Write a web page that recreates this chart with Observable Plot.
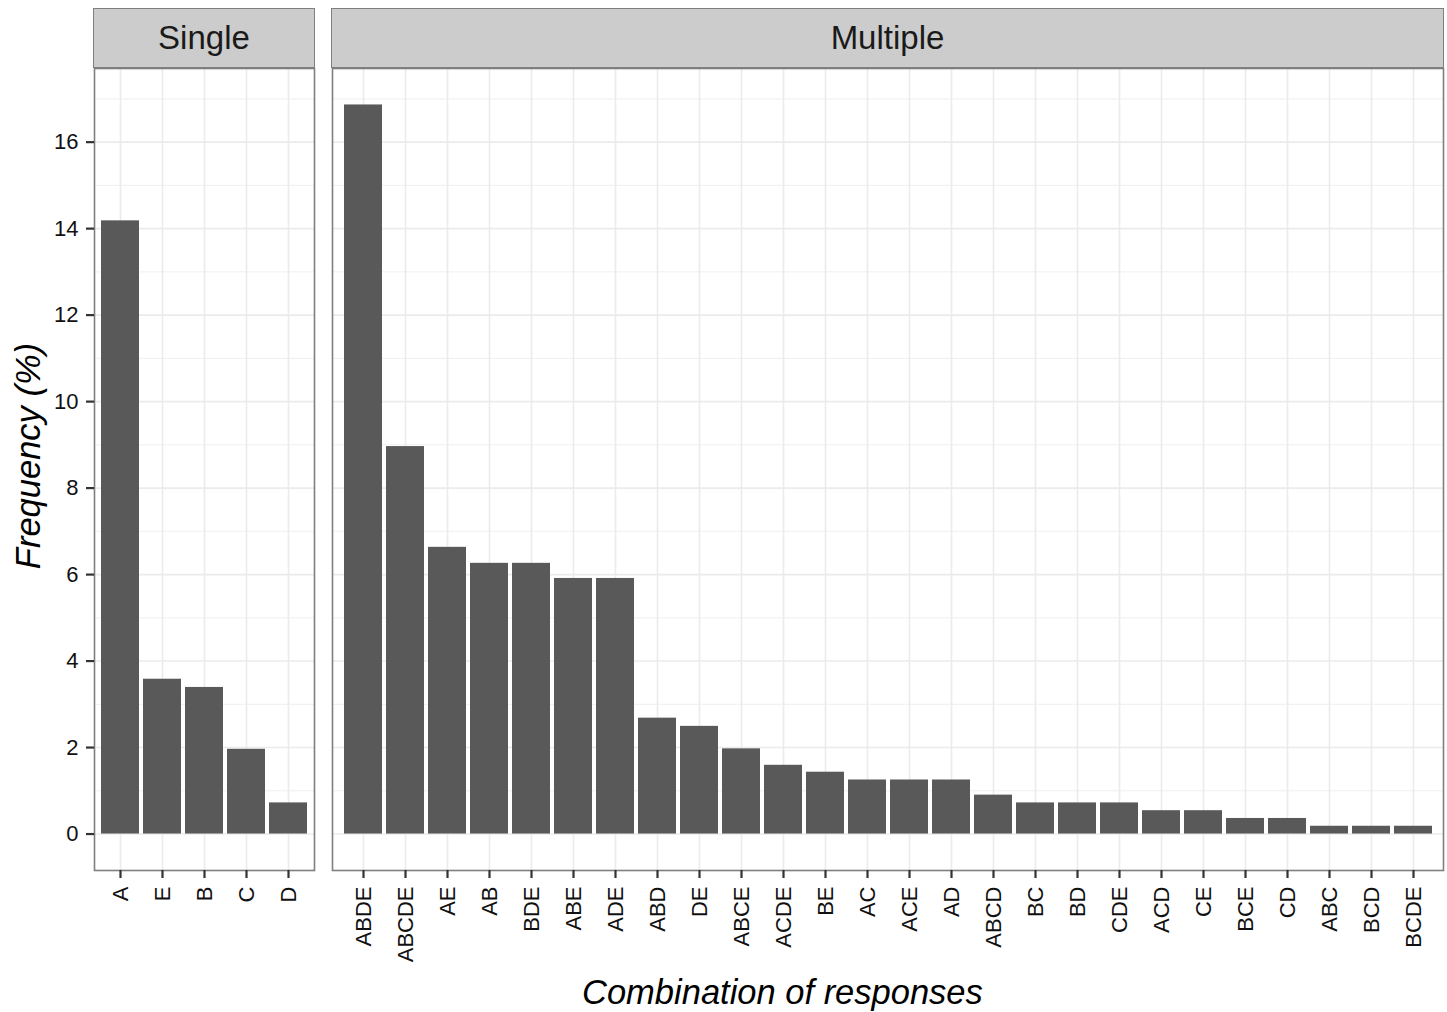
<!DOCTYPE html>
<html>
<head>
<meta charset="utf-8">
<script src="https://cdn.jsdelivr.net/npm/d3@7"></script>
<script src="https://cdn.jsdelivr.net/npm/@observablehq/plot@0.6"></script>
<style>
  html, body { margin: 0; padding: 0; background: #fff; }
  #wrap { position: relative; width: 1447px; height: 1012px; background: #fff;
          font-family: "Liberation Sans", Arial, Helvetica, sans-serif; }
  .strip { position: absolute; top: 8px; height: 60px; box-sizing: border-box;
           background: #CCCCCC; border: 1.5px solid #7F7F7F;
           display: flex; align-items: center; justify-content: center;
           font-size: 33px; color: #1A1A1A; }
  .xtitle { position: absolute; top: 970px; left: 582px; width: 400px; text-align: center;
            font-style: italic; font-size: 34.5px; color: #000; white-space: nowrap; line-height: 44px; }
  .ytitle { position: absolute; left: 28px; top: 456px; transform: translate(-50%, -50%) rotate(-90deg);
            font-style: italic; font-size: 34.5px; color: #000; white-space: nowrap; }
  .panel { position: absolute; top: 0; }
</style>
</head>
<body>
<div id="wrap"></div>
<script>
// ---- data ----
const singleCats = ["A", "E", "B", "C", "D"];
const singleVals = [14.18, 3.58, 3.39, 1.96, 0.72];
const multiCats = ["ABDE", "ABCDE", "AE", "AB", "BDE", "ABE", "ADE", "ABD", "DE", "ABCE", "ACDE", "BE", "AC", "ACE", "AD", "ABCD", "BC", "BD", "CDE", "ACD", "CE", "BCE", "CD", "ABC", "BCD", "BCDE"];
const multiVals = [16.86, 8.96, 6.63, 6.26, 6.26, 5.91, 5.91, 2.68, 2.49, 1.97, 1.59, 1.43, 1.25, 1.25, 1.25, 0.90, 0.72, 0.72, 0.72, 0.54, 0.54, 0.36, 0.36, 0.18, 0.18, 0.18];
const panelNames = ["Single", "Multiple"];
const yTicks = [0, 2, 4, 6, 8, 10, 12, 14, 16];
const yMinor = [1, 3, 5, 7, 9, 11, 13, 15, 17];
const xTitle = "Combination of responses";
const yTitle = "Frequency (%)";

// ---- build ----
const yMax = d3.max([...singleVals, ...multiVals]);
const yPad = yMax * 0.05;
const yDomain = [-yPad, yMax + yPad];
const FONT = '"Liberation Sans", Arial, Helvetica, sans-serif';

function panel(cats, vals, opts) {
  const data = cats.map((c, i) => ({cat: c, value: vals[i]}));
  const marks = [
    Plot.gridY(yMinor.filter(v => v <= yDomain[1]), {stroke: "#EBEBEB", strokeOpacity: 1, strokeWidth: 0.8}),
    Plot.gridY(yTicks, {stroke: "#EBEBEB", strokeOpacity: 1, strokeWidth: 1.6}),
    Plot.gridX({stroke: "#EBEBEB", strokeOpacity: 1, strokeWidth: 1.6}),
    Plot.barY(data, {x: "cat", y: "value", fill: "#595959"}),
    Plot.frame({stroke: "#7F7F7F", strokeWidth: 1.6}),
    Plot.axisX({tickRotate: -90, tickSize: 8, tickPadding: 8, fontSize: 22, label: null,
                stroke: "#333333", strokeWidth: 2.2, fill: "#111"})
  ];
  if (opts.yAxis) {
    marks.push(Plot.axisY(yTicks, {tickSize: 8, tickPadding: 8, fontSize: 22, label: null,
                stroke: "#333333", strokeWidth: 2.2, fill: "#111"}));
  }
  return Plot.plot({
    width: opts.width,
    height: 960,
    marginLeft: opts.marginLeft,
    marginRight: 2,
    marginTop: 68,
    marginBottom: 90,
    style: {fontFamily: FONT, background: "transparent", overflow: "visible", color: "#111"},
    x: {type: "band", domain: cats, paddingInner: 0.1, paddingOuter: 0.15, axis: null},
    y: {domain: yDomain, axis: null},
    marks
  });
}

const wrap = document.getElementById("wrap");

// Single panel: plot area 94..314
const p1 = panel(singleCats, singleVals, {width: 316, marginLeft: 94, yAxis: true});
const d1 = document.createElement("div");
d1.className = "panel"; d1.style.left = "0px";
d1.appendChild(p1); wrap.appendChild(d1);

// Multiple panel: plot area 332..1443
const p2 = panel(multiCats, multiVals, {width: 1115, marginLeft: 2, yAxis: false});
const d2 = document.createElement("div");
d2.className = "panel"; d2.style.left = "330px";
d2.appendChild(p2); wrap.appendChild(d2);

// strips
[[94, 220, panelNames[0]], [332, 1111, panelNames[1]]].forEach(([l, w, t]) => {
  const s = document.createElement("div");
  s.className = "strip";
  s.style.left = (l - 0.8) + "px";
  s.style.width = (w + 1.6) + "px";
  s.textContent = t;
  wrap.appendChild(s);
});

const xt = document.createElement("div");
xt.className = "xtitle"; xt.textContent = xTitle; wrap.appendChild(xt);
const yt = document.createElement("div");
yt.className = "ytitle"; yt.textContent = yTitle; wrap.appendChild(yt);
</script>
</body>
</html>
